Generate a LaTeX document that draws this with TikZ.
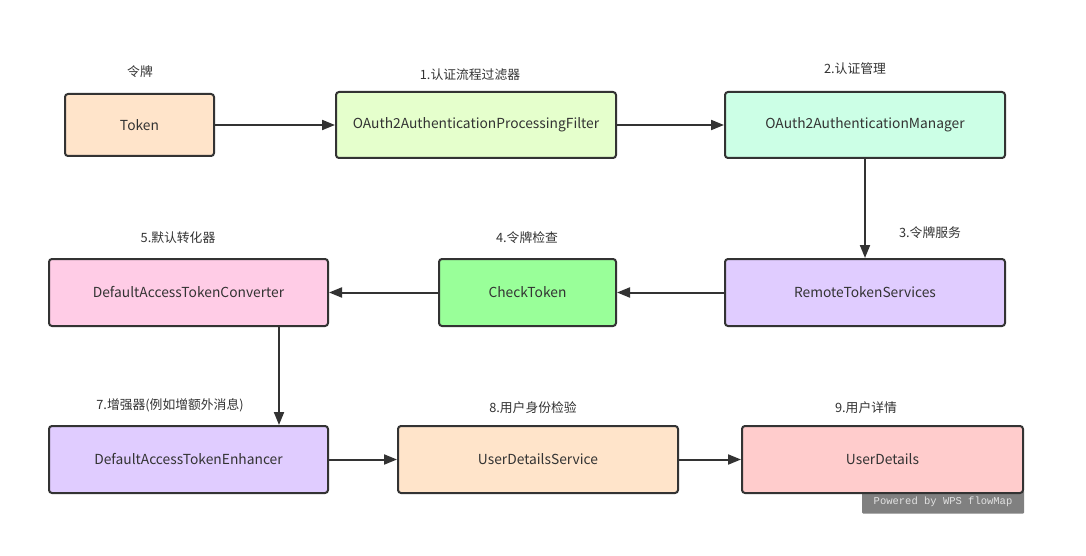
\documentclass[tikz,border=0pt]{standalone}
\usepackage{fontspec}
\setmainfont{Noto Sans CJK SC}
\newfontfamily\wmfont{Liberation Mono}
\usetikzlibrary{arrows.meta}
\definecolor{cpeach}{HTML}{FFE4CA}
\definecolor{cyg}{HTML}{E5FFCC}
\definecolor{cmint}{HTML}{CCFFE6}
\definecolor{clav}{HTML}{E0CCFF}
\definecolor{cgreen}{HTML}{99FF99}
\definecolor{cpink}{HTML}{FFCCE6}
\definecolor{crose}{HTML}{FFCCCC}
\definecolor{cline}{HTML}{333333}
\definecolor{ctext}{HTML}{333333}
\definecolor{cwmbg}{HTML}{808080}
\definecolor{cwmtx}{HTML}{E2E2E2}
\tikzset{
  box/.style={draw=cline, line width=2pt, rounded corners=3pt, text=ctext,
    font=\fontsize{13.8}{16}\selectfont, inner sep=0pt},
  lab/.style={text=ctext, font=\fontsize{12.8}{15}\selectfont, inner sep=0pt},
  conn/.style={draw=cline, line width=2pt, -{Triangle[length=13pt,width=10pt]}}
}
\begin{document}
\begin{tikzpicture}[x=1pt,y=-1pt]
\useasboundingbox (0,0) rectangle (1086,556);
\fill[white] (0,0) rectangle (1086,556);
% watermark
\node[fill=cwmbg, rounded corners=1pt, minimum width=162pt, minimum height=23pt,
  text=cwmtx, font=\wmfont\fontsize{10.5}{12}\selectfont, inner sep=0pt] (wm) at (943,502) {Powered by WPS flowMap};
% boxes
\node[box, fill=cpeach, minimum width=149pt, minimum height=62pt] (token) at (139.5,125) {Token};
\node[box, fill=cyg, minimum width=280pt, minimum height=66pt] (filter) at (476,125) {OAuth2AuthenticationProcessingFilter};
\node[box, fill=cmint, minimum width=280pt, minimum height=66pt] (manager) at (865,125) {OAuth2AuthenticationManager};
\node[box, fill=clav, minimum width=280pt, minimum height=67pt] (remote) at (865,292.5) {RemoteTokenServices};
\node[box, fill=cgreen, minimum width=177pt, minimum height=67pt] (check) at (527.5,292.5) {CheckToken};
\node[box, fill=cpink, minimum width=279pt, minimum height=67pt] (conv) at (188.5,292.5) {DefaultAccessTokenConverter};
\node[box, fill=clav, minimum width=279pt, minimum height=67pt] (enh) at (188.5,459.5) {DefaultAccessTokenEnhancer};
\node[box, fill=cpeach, minimum width=280pt, minimum height=67pt] (uds) at (538,459.5) {UserDetailsService};
\node[box, fill=crose, minimum width=281pt, minimum height=67pt] (ud) at (882.5,459.5) {UserDetails};
% labels
\node[lab] (l0) at (140,72) {令牌};
\node[lab] (l1) at (470,75) {1.认证流程过滤器};
\node[lab] (l2) at (855,69) {2.认证管理};
\node[lab] (l3) at (930,233) {3.令牌服务};
\node[lab] (l4) at (527,238) {4.令牌检查};
\node[lab] (l5) at (178,238) {5.默认转化器};
\node[lab] (l7) at (170,405) {7.增强器(例如增额外消息)};
\node[lab] (l8) at (533,408) {8.用户身份检验};
\node[lab] (l9) at (866,408) {9.用户详情};
% connectors
\coordinate (dx) at (279,0);
\draw[conn] (token.east) -- (filter.west);
\draw[conn] (filter.east) -- (manager.west);
\draw[conn] (manager.south) -- (remote.north);
\draw[conn] (remote.west) -- (check.east);
\draw[conn] (check.west) -- (conv.east);
\draw[conn] (conv.south -| dx) -- (enh.north -| dx);
\draw[conn] (enh.east) -- (uds.west);
\draw[conn] (uds.east) -- (ud.west);
\end{tikzpicture}
\end{document}
